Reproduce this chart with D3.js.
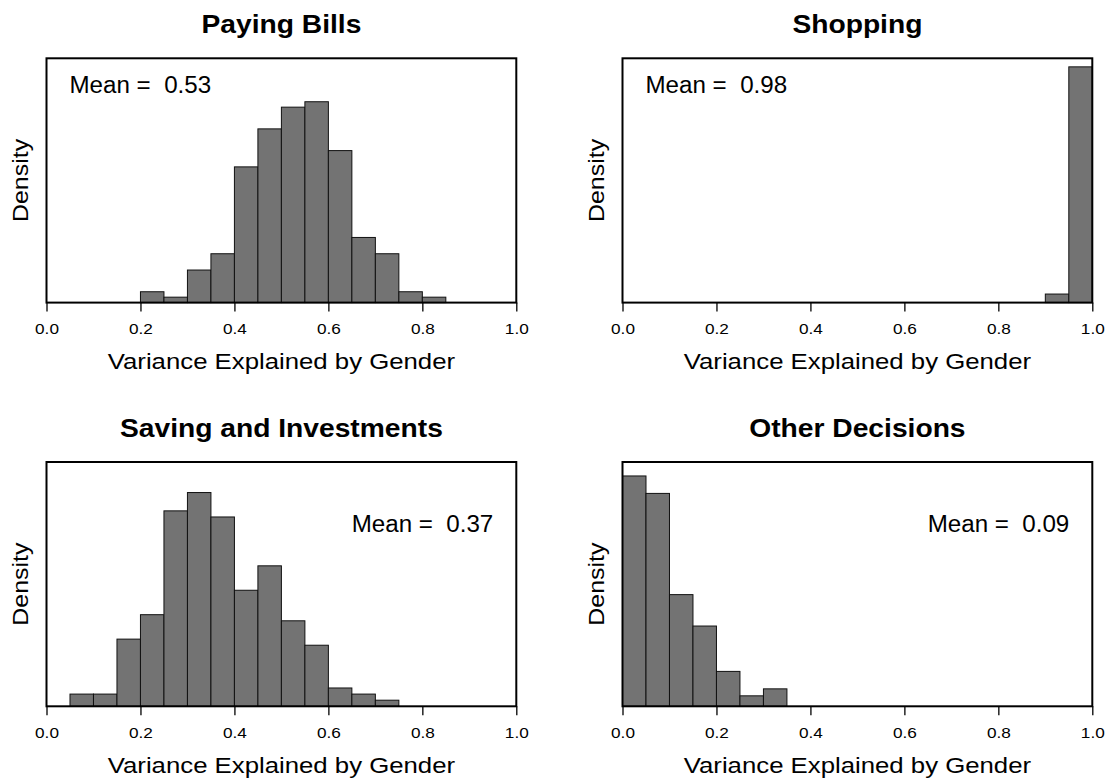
<!DOCTYPE html>
<html>
<head>
<meta charset="utf-8">
<script src="https://cdn.jsdelivr.net/npm/d3@7/dist/d3.min.js"></script>
<style>
  html, body { margin: 0; padding: 0; background: #ffffff; }
  svg { display: block; }
  text { font-family: "Liberation Sans", Arial, Helvetica, sans-serif; fill: #000; white-space: pre; }
</style>
</head>
<body>
<svg id="chart" width="1112" height="780"></svg>
<script>
// ---------------- data ----------------
const breaks = [0.00, 0.05, 0.10, 0.15, 0.20, 0.25, 0.30, 0.35, 0.40, 0.45, 0.50,
                0.55, 0.60, 0.65, 0.70, 0.75, 0.80, 0.85, 0.90, 0.95, 1.00];

const titles = ["Paying Bills", "Shopping", "Saving and Investments", "Other Decisions"];
const meanLabels = ["0.53", "0.98", "0.37", "0.09"];

// density per bin (20 bins of width 0.05)
const densPayingBills = [0, 0, 0, 0, 0.2, 0.1, 0.6, 0.9, 2.5, 3.2, 3.6, 3.7, 2.8, 1.2, 0.9, 0.2, 0.1, 0, 0, 0];
const densShopping    = [0, 0, 0, 0, 0, 0, 0, 0, 0, 0, 0, 0, 0, 0, 0, 0, 0, 0, 0.7, 19.3];
const densSaving      = [0, 0.2, 0.2, 1.1, 1.5, 3.2, 3.5, 3.1, 1.9, 2.3, 1.4, 1.0, 0.3, 0.2, 0.1, 0, 0, 0, 0, 0];
const densOther       = [6.6, 6.1, 3.2, 2.3, 1.0, 0.3, 0.5, 0, 0, 0, 0, 0, 0, 0, 0, 0, 0, 0, 0, 0];

const yMax = [4.5, 20, 4.0, 7.0];
const xTicks = [0.0, 0.2, 0.4, 0.6, 0.8, 1.0];
const xLabel = "Variance Explained by Gender";
const yLabel = "Density";
const meanPos = ["topleft", "topleft", "topright", "topright"];

// ---------------- layout ----------------
const svg = d3.select("#chart");
const colLeft = [46.5, 622.5];
const rowTop = [58.3, 462.0];
const boxW = 469.8, boxH = 244.3;
const fillCol = "#737373";

const panelsData = [densPayingBills, densShopping, densSaving, densOther];

panelsData.forEach((dens, i) => {
  const col = i % 2, row = Math.floor(i / 2);
  const left = colLeft[col], top = rowTop[row];
  const g = svg.append("g").attr("transform", `translate(${left},${top})`);

  const x = d3.scaleLinear().domain([0, 1]).range([0, boxW]);
  const y = d3.scaleLinear().domain([0, yMax[i]]).range([boxH, 0]);

  const bins = dens.map((d, k) => ({ x0: breaks[k], x1: breaks[k + 1], d }))
                   .filter(b => b.d > 0);

  g.selectAll("rect.bar").data(bins).enter().append("rect")
    .attr("class", "bar")
    .attr("x", b => x(b.x0))
    .attr("width", b => x(b.x1) - x(b.x0))
    .attr("y", b => y(b.d))
    .attr("height", b => y(0) - y(b.d))
    .attr("fill", fillCol)
    .attr("stroke", "#111")
    .attr("stroke-width", 1);

  // box
  g.append("rect")
    .attr("x", 0).attr("y", 0).attr("width", boxW).attr("height", boxH)
    .attr("fill", "none").attr("stroke", "#000").attr("stroke-width", 2);

  // x axis
  const ax = g.append("g").attr("transform", `translate(0,${boxH})`)
    .call(d3.axisBottom(x).tickValues(xTicks).tickFormat(d3.format(".1f")).tickSize(9));
  ax.select(".domain").remove();
  ax.selectAll(".tick line").attr("stroke", "#000").attr("stroke-width", 1.3);
  ax.selectAll(".tick text")
    .attr("y", 31.5).attr("dy", 0)
    .attr("fill", "#000")
    .style("font-family", '"Liberation Sans", Arial, sans-serif')
    .style("font-size", "15.5px")
    .attr("transform", "scale(1.11,1)")
    .attr("x", 0);
  ax.attr("font-size", null).attr("font-family", null);

  // x label
  g.append("text")
    .attr("transform", `translate(${boxW / 2},${boxH + 66.7}) scale(1.145,1)`)
    .attr("text-anchor", "middle")
    .style("font-size", "22.5px")
    .text(xLabel);

  // y label
  g.append("text")
    .attr("transform", `translate(-18.5,${boxH / 2}) rotate(-90) scale(1.11,1)`)
    .attr("text-anchor", "middle")
    .style("font-size", "22.5px")
    .text(yLabel);

  // title
  g.append("text")
    .attr("transform", `translate(${boxW / 2},-25) scale(1.065,1)`)
    .attr("text-anchor", "middle")
    .style("font-size", "26.5px")
    .style("font-weight", "bold")
    .text(titles[i]);

  // mean annotation
  const meanText = "Mean =  " + meanLabels[i];
  if (meanPos[i] === "topleft") {
    g.append("text")
      .attr("transform", `translate(23,35) scale(1.05,1)`)
      .attr("text-anchor", "start")
      .style("font-size", "23px")
      .text(meanText);
  } else {
    g.append("text")
      .attr("transform", `translate(${boxW - 23},69.5) scale(1.05,1)`)
      .attr("text-anchor", "end")
      .style("font-size", "23px")
      .text(meanText);
  }
});
</script>
</body>
</html>
